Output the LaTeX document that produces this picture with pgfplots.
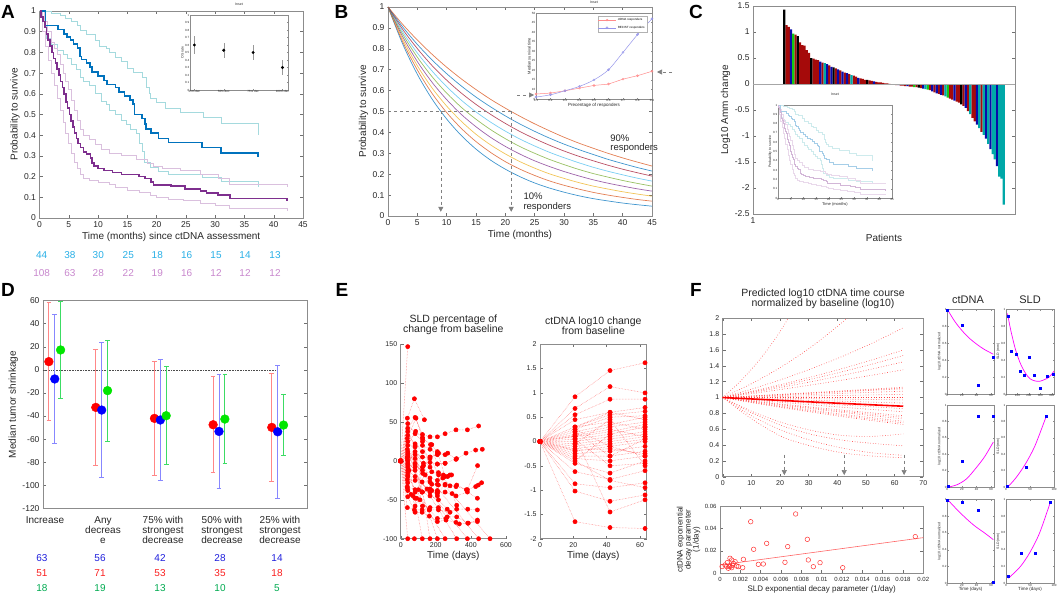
\documentclass[border=0pt]{standalone}
\usepackage{pgfplots}
\usepackage{pgfplotstable}
\pgfplotsset{compat=1.18}
\usepackage{fontspec}
\setmainfont{Liberation Sans}
\usetikzlibrary{arrows.meta}
\definecolor{mblue}{RGB}{0,114,189}
\definecolor{morange}{RGB}{217,83,25}
\definecolor{myellow}{RGB}{237,177,32}
\definecolor{mpurple}{RGB}{126,47,142}
\definecolor{mgreen}{RGB}{119,172,48}
\definecolor{mcyan}{RGB}{77,190,238}
\definecolor{mred}{RGB}{162,20,47}
\definecolor{ciblue}{RGB}{165,218,222}
\definecolor{cipurp}{RGB}{218,192,222}
\definecolor{numcyan}{RGB}{40,175,230}
\definecolor{numpink}{RGB}{200,135,205}
\definecolor{txt}{RGB}{38,38,38}
\definecolor{axc}{RGB}{140,140,140}
\definecolor{barred}{RGB}{165,10,10}
\definecolor{barblue}{RGB}{10,10,170}
\definecolor{bargreen}{RGB}{20,200,20}
\definecolor{barcyan}{RGB}{0,168,168}
\definecolor{dred}{RGB}{255,0,0}
\definecolor{dblue}{RGB}{0,0,255}
\definecolor{dgreen}{RGB}{0,230,0}
\definecolor{ebred}{RGB}{255,135,135}
\definecolor{ebblue}{RGB}{135,135,255}
\definecolor{ebgreen}{RGB}{60,220,100}
\definecolor{nblue}{RGB}{30,30,220}
\definecolor{nred}{RGB}{250,30,30}
\definecolor{ngreen}{RGB}{0,170,80}
\definecolor{magen}{RGB}{255,0,255}
\newcommand\fs[1]{\fontsize{#1}{#1}\selectfont}
\pgfplotsset{
  base/.style={scale only axis, anchor=south west,
    axis line style={draw=axc, line width=0.5pt},
    tick style={draw=axc!80!black, line width=0.4pt},
    major tick length=3pt, tick align=inside,
    tick label style={font=\fs{8.5}, text=txt},
    label style={font=\fs{10}, text=txt},
    title style={font=\fs{10.5}, text=txt, align=center},
    /pgf/number format/assume math mode=true,
    /pgf/number format/fixed,
    xlabel style={inner sep=1pt}, ylabel style={inner sep=1pt}},
  minis/.style={base, tick label style={font=\fs{3}}, label style={font=\fs{3.5}},
    title style={font=\fs{3.5}}, major tick length=1.2pt,
    tick style={draw=axc, line width=0.2pt}, axis line style={draw=axc, line width=0.3pt},
    xticklabel style={inner sep=0.6pt}, yticklabel style={inner sep=0.6pt},
    xlabel style={inner sep=0.5pt}, ylabel style={inner sep=0.5pt},
    axis background/.style={fill=white}},
}
\pgfplotstableread{
t s
0 1
1 0.93
3.2 0.91
4.2 0.89
4.7 0.875
5.3 0.86
5.8 0.84
6.5 0.82
6.9 0.78
7.2 0.765
8 0.75
8.6 0.73
9 0.705
10 0.685
11 0.665
11.5 0.645
13 0.63
13.6 0.61
14.5 0.59
15.5 0.57
16 0.55
16.2 0.5
17.5 0.48
18 0.455
18.2 0.43
19 0.41
20.3 0.385
22 0.364
27.8 0.34
31 0.315
37.3 0.295
}\bluemain
\pgfplotstableread{
t s
0 1
2 0.99
3.5 0.98
4.5 0.965
5.5 0.95
6.5 0.93
7 0.905
8 0.885
9.5 0.86
10.2 0.83
11.5 0.82
12 0.80
13 0.775
14 0.755
15 0.725
16 0.705
17.5 0.68
18.3 0.63
18.7 0.60
19 0.58
20 0.56
21.5 0.53
24 0.51
28 0.485
31 0.455
37.3 0.40
}\blueup
\pgfplotstableread{
t s
0 1
0.8 0.93
1.2 0.87
2 0.84
3 0.81
4 0.79
4.7 0.77
5.5 0.74
6.3 0.72
7 0.68
7.5 0.66
8.5 0.64
9.5 0.60
10.5 0.565
11.5 0.55
12 0.52
13 0.50
14 0.47
14.8 0.45
15.5 0.43
16.5 0.41
17 0.36
17.5 0.32
18 0.27
19 0.245
20.3 0.225
22 0.21
27.8 0.195
31 0.175
37.3 0.15
}\bluelo
\pgfplotstableread{
t s
0 1
0.3 0.97
0.6 0.95
0.9 0.92
1.2 0.89
1.5 0.86
1.8 0.83
2.1 0.80
2.4 0.77
2.7 0.75
3.0 0.72
3.3 0.69
3.6 0.66
3.9 0.63
4.2 0.60
4.5 0.56
4.8 0.53
5.1 0.50
5.4 0.47
5.7 0.44
6.0 0.41
6.3 0.385
6.6 0.36
7.0 0.34
7.5 0.32
8.0 0.31
8.7 0.29
9.0 0.265
9.3 0.25
10 0.24
11 0.23
12.5 0.22
14 0.21
17 0.20
18 0.19
19 0.175
19.5 0.16
22.5 0.155
24.8 0.14
27.5 0.13
28.5 0.12
30.5 0.11
32.5 0.095
42.3 0.08
}\purpmain
\pgfplotstableread{
t s
0 1
0.8 0.95
1.3 0.90
2 0.85
2.5 0.82
3 0.79
3.5 0.74
4 0.70
4.5 0.66
5 0.62
5.5 0.57
6 0.52
6.5 0.47
7 0.43
7.5 0.40
8.5 0.38
9.5 0.355
10.5 0.33
12 0.31
14 0.30
16.5 0.285
18.5 0.265
19.5 0.25
21 0.24
24 0.23
27.5 0.21
30.5 0.19
32.5 0.16
42.3 0.15
}\purpup
\pgfplotstableread{
t s
0 1
0.5 0.90
1 0.83
1.5 0.76
2 0.70
2.5 0.64
3 0.58
3.5 0.52
4 0.46
4.5 0.41
5 0.36
5.5 0.31
6 0.27
6.5 0.24
7 0.21
7.5 0.19
8.5 0.18
10 0.17
12 0.16
13 0.15
15 0.135
17 0.125
19 0.11
20 0.10
22 0.09
24.5 0.085
27.5 0.07
30 0.06
32.5 0.045
42.3 0.035
}\purplo
\pgfplotstableread{
t p1 p2 p3 p4 p5 p6 p7 p8 p9
0 1 1 1 1 1 1 1 1 1
2.5 .823 .834 .846 .858 .870 .881 .893 .905 .917
5 .678 .699 .719 .739 .760 .780 .801 .821 .842
7.5 .560 .587 .613 .640 .667 .694 .720 .747 .774
10 .464 .495 .526 .557 .588 .619 .650 .681 .712
12.5 .385 .419 .453 .486 .520 .554 .588 .622 .656
15 .320 .356 .391 .427 .463 .498 .534 .569 .605
17.5 .267 .304 .340 .376 .413 .449 .486 .522 .558
20 .224 .260 .297 .333 .370 .406 .443 .479 .516
22.5 .188 .224 .260 .296 .332 .368 .404 .440 .477
25 .158 .194 .229 .264 .300 .335 .370 .405 .441
27.5 .134 .168 .202 .237 .271 .305 .339 .373 .408
30 .114 .147 .180 .213 .246 .279 .311 .344 .377
32.5 .097 .129 .160 .192 .223 .255 .286 .318 .349
35 .083 .113 .143 .173 .203 .233 .264 .294 .324
37.5 .072 .100 .129 .157 .186 .214 .243 .271 .300
40 .062 .089 .116 .143 .170 .197 .224 .251 .278
42.5 .054 .079 .105 .130 .156 .181 .207 .232 .258
45 .047 .071 .095 .119 .143 .167 .191 .215 .239
}\Btab
\pgfplotstableread{
t u3 u4 u5 u6 u7 u8 u9 u10 u11 u12 f1 d1 d2 th d3 d4 d5 d5b d6 d7 d7b d8 d9 d10 d11 d12
0 1 1 1 1 1 1 1 1 1 1 1 1 1 1 1 1 1 1 1 1 1 1 1 1 1 1
10.5 1.111 1.081 1.073 1.064 1.051 1.021 1.018 1.013 1.007 1.019 1.0 .995 .988 .981 .975 .967 .957 .953 .949 .942 .938 .933 .82 .80 .76 .72
21 1.234 1.170 1.152 1.132 1.105 1.042 1.035 1.026 1.013 1.038 1.0 .990 .976 .962 .951 .936 .916 .908 .901 .888 .879 .871 .68 .64 .58 .50
31.5 1.371 1.265 1.237 1.204 1.162 1.063 1.054 1.039 1.020 1.058 1.0 .985 .964 .943 .927 .906 .877 .866 .855 .837 .825 .813 .58 .53 .45 .38
42 1.523 1.368 1.328 1.281 1.221 1.085 1.072 1.053 1.026 1.078 1.0 .980 .953 .925 .904 .876 .840 .825 .811 .788 .773 .758 .52 .46 .36 .30
52.5 1.692 1.479 1.425 1.363 1.284 1.107 1.091 1.066 1.033 1.099 1.0 .975 .941 .907 .882 .848 .804 .787 .769 .743 .725 .707 .51 .42 .30 .26
63 1.88 1.6 1.53 1.45 1.35 1.13 1.11 1.08 1.04 1.12 1.0 .97 .93 .89 .86 .82 .77 .75 .73 .70 .68 .66 .54 .39 .27 .24
}\Ftab
\begin{document}
\begin{tikzpicture}[x=1pt,y=1pt]
\useasboundingbox (0,0) rectangle (1059,598);
% ================= A =================
\begin{axis}[base, at={(39.5pt,380pt)}, width=263.5pt, height=207pt,
  xmin=0,xmax=45,ymin=0,ymax=1, xtick={0,5,...,45},
  ytick={0,0.1,0.2,0.3,0.4,0.5,0.6,0.7,0.8,0.9,1},
  xlabel={Time (months) since ctDNA assessment}, ylabel={Probability to survive}]
\addplot[const plot, ciblue, line width=0.8pt] table {\blueup};
\addplot[const plot, ciblue, line width=0.8pt] table {\bluelo};
\addplot[const plot, cipurp, line width=0.8pt] table {\purpup};
\addplot[const plot, cipurp, line width=0.8pt] table {\purplo};
\addplot[const plot, mblue, line width=1.6pt] table {\bluemain};
\addplot[const plot, mpurple, line width=1.6pt] table {\purpmain};
\end{axis}
\foreach \x/\a/\b in {41.7/44/108, 70/38/63, 98.3/30/28, 128.3/25/22, 157.3/18/19, 186.7/16/16, 216/15/12, 245/14/12, 275/13/12}{
  \node[font=\fs{10}, text=numcyan] at (\x,343) {\a};
  \node[font=\fs{10}, text=numpink] at (\x,325) {\b};
}
\begin{axis}[minis, at={(190pt,508pt)}, width=98pt, height=75pt,
  xmin=0.85,xmax=4.19, ymin=0,ymax=1, xtick={1,2,3,4},
  xticklabels={25\% dec,50\% dec,75\% dec,100\% dec},
  ytick={0,0.1,0.2,0.3,0.4,0.5,0.6,0.7,0.8,0.9,1}, title={Inset}, ylabel={OS rate}]
\addplot[gray!80, line width=0.3pt, unbounded coords=jump] coordinates {(1,0.48)(1,0.72)(nan,nan)(2,0.43)(2,0.63)(nan,nan)(3,0.4)(3,0.6)(nan,nan)(4,0.2)(4,0.4)};
\addplot[only marks, mark=*, mark size=1.3pt, black] coordinates {(1,0.6) (2,0.53) (3,0.5) (4,0.3)};
\end{axis}
% ================= B =================
\begin{axis}[base, at={(388pt,382pt)}, width=264pt, height=209pt,
  xmin=0,xmax=45,ymin=0,ymax=1, xtick={0,5,...,45},
  ytick={0,0.1,0.2,0.3,0.4,0.5,0.6,0.7,0.8,0.9,1},
  xlabel={Time (months)}, ylabel={Probability to survive}, clip=false]
\pgfplotsset{bl/.style={smooth, line width=0.7pt, opacity=0.75}}
\addplot[mblue, bl] table[x=t,y=p1] {\Btab};
\addplot[morange, bl] table[x=t,y=p2] {\Btab};
\addplot[myellow, bl] table[x=t,y=p3] {\Btab};
\addplot[mpurple, bl] table[x=t,y=p4] {\Btab};
\addplot[mgreen, bl] table[x=t,y=p5] {\Btab};
\addplot[mcyan, bl] table[x=t,y=p6] {\Btab};
\addplot[mred, bl] table[x=t,y=p7] {\Btab};
\addplot[mblue, bl] table[x=t,y=p8] {\Btab};
\addplot[morange, bl] table[x=t,y=p9] {\Btab};
\draw[gray, dashed, line width=0.6pt] (axis cs:0,0.5) -- (axis cs:21,0.5);
\draw[gray, dashed, line width=0.6pt, -{Triangle[length=5pt,width=5pt]}] (axis cs:9,0.5) -- (axis cs:9,0.02);
\draw[gray, dashed, line width=0.6pt, -{Triangle[length=5pt,width=5pt]}] (axis cs:21,0.5) -- (axis cs:21,0.02);
\node[font=\fs{9.5}, text=txt, align=left, anchor=west] at (axis cs:37.3,0.345) {90\%\\responders};
\node[font=\fs{9.5}, text=txt, align=left, anchor=west] at (axis cs:22.5,0.065) {10\%\\responders};
\end{axis}
\begin{axis}[minis, at={(536pt,499pt)}, width=116pt, height=86pt,
  xmin=0.1,xmax=0.9, ymin=5,ymax=50, xtick={0.1,0.2,0.3,0.4,0.5,0.6,0.7,0.8,0.9},
  ytick={5,10,15,20,25,30,35,40,45,50}, title={Inset},
  xlabel={Precentage of responders}, ylabel={Median survival time},
  xlabel style={font=\fs{4.5}}, ylabel style={font=\fs{4}},
  legend style={font=\fs{3}, at={(0.96,0.97)}, anchor=north east, inner sep=0.5pt, draw=gray!60},
  legend cell align=left]
\addplot[color={rgb,255:red,255;green,140;blue,140}, mark=o, mark size=1pt, line width=0.5pt]
  coordinates {(0.1,7.6) (0.2,8.1) (0.3,9.3) (0.4,10.7) (0.5,12.1) (0.6,12.8) (0.7,15.4) (0.8,17.2) (0.9,19.5)};
\addplot[color={rgb,255:red,150;green,150;blue,235}, mark=o, mark size=1pt, line width=0.5pt, smooth]
  coordinates {(0.1,6) (0.2,7.2) (0.3,9.3) (0.4,11.6) (0.5,15) (0.6,20.3) (0.7,29.4) (0.8,38.7) (0.9,47)};
\legend{ctDNA responders, RECIST responders}
\end{axis}
\draw[gray, dashed, line width=0.6pt, -{Triangle[length=5pt,width=5pt]}] (672,526) -- (657,526);
\draw[gray, dashed, line width=0.6pt, -{Triangle[length=5pt,width=5pt]}] (517,503) -- (534,503);
% ================= C =================
\begin{axis}[base, at={(753pt,384pt)}, width=262pt, height=208pt,
  xmin=1,xmax=118, ymin=-2.5,ymax=1.5, xtick={1},
  ytick={-2.5,-2,-1.5,-1,-0.5,0,0.5,1,1.5},
  xlabel={Patients}, ylabel={Log10 Amm change}, xlabel style={yshift=-6pt}]
\addplot[ybar, bar width=1, bar shift=0pt, fill=barred, draw=none] coordinates {(16,1.13)(17,1.10)(20,0.95)(22,0.80)(23,0.75)(24,0.74)(25,0.65)(26,0.60)(28,0.49)(29,0.47)(30,0.46)(32,0.41)(35,0.36)(38,0.30)(40,0.26)(42,0.22)(44,0.19)(46,0.16)(47,0.14)(49,0.11)(50,0.10)(51,0.08)(53,0.07)(54,0.06)(56,0.04)(57,0.03)(58,0.03)(59,0.02)(60,0.01)(61,0.01)(62,0.004)(63,-0.01)(64,-0.01)(65,-0.02)(67,-0.03)(68,-0.03)(69,-0.04)(71,-0.05)(72,-0.05)(74,-0.06)(76,-0.08)(80,-0.12)(82,-0.16)(84,-0.19)(86,-0.22)(89,-0.28)(90,-0.30)(92,-0.34)(93,-0.36)(95,-0.42)(97,-0.52)(99,-0.65)(100,-0.72)(103,-0.92)};
\addplot[ybar, bar width=1, bar shift=0pt, fill=barblue, draw=none] coordinates {(18,1.05)(31,0.43)(34,0.38)(36,0.33)(39,0.28)(41,0.24)(43,0.21)(48,0.12)(55,0.05)(66,-0.02)(70,-0.04)(77,-0.09)(81,-0.14)(83,-0.18)(85,-0.21)(91,-0.32)(96,-0.46)(101,-0.78)(105,-1.05)(107,-1.25)(110,-1.58)};
\addplot[ybar, bar width=1, bar shift=0pt, fill=black, draw=none] coordinates {(15,1.43)(21,0.92)(27,0.50)(37,0.32)(52,0.08)(75,-0.07)(94,-0.39)};
\addplot[ybar, bar width=1, bar shift=0pt, fill=bargreen, draw=none] coordinates {(19,0.97)(73,-0.06)(79,-0.11)(88,-0.26)};
\addplot[ybar, bar width=1, bar shift=0pt, fill=barcyan, draw=none] coordinates {(33,0.40)(45,0.17)(78,-0.10)(87,-0.24)(98,-0.58)(102,-0.85)(104,-0.98)(106,-1.15)(108,-1.35)(109,-1.45)(111,-1.78)(112,-1.82)(113,-2.32)};
\addplot[gray!70, line width=0.8pt] coordinates {(1,0) (118,0)};
\end{axis}
\begin{axis}[minis, at={(778pt,400pt)}, width=114pt, height=93pt,
  xmin=0,xmax=45,ymin=0,ymax=1, xtick={0,5,...,45},
  ytick={0,0.1,0.2,0.3,0.4,0.5,0.6,0.7,0.8,0.9,1}, title={Inset},
  xlabel={Time (months)}, ylabel={Probability to survive}, xlabel style={font=\fs{4}}]
\addplot[const plot, ciblue!55, line width=0.6pt] table {\blueup};
\addplot[const plot, ciblue!55, line width=0.6pt] table {\bluelo};
\addplot[const plot, cipurp!60, line width=0.6pt] table {\purpup};
\addplot[const plot, cipurp!60, line width=0.6pt] table {\purplo};
\addplot[const plot, mblue!35, line width=0.9pt] table {\bluemain};
\addplot[const plot, mpurple!35, line width=0.9pt] table {\purpmain};
\end{axis}
% ================= D =================
\begin{axis}[base, at={(43pt,89.5pt)}, width=264pt, height=208pt,
  xmin=0,xmax=4.5, ymin=-120,ymax=60, xtick=\empty,
  ytick={-120,-100,-80,-60,-40,-20,0,20,40,60},
  ylabel={Median tumor shrinkage}, clip=false]
\addplot[densely dotted, black!70, line width=0.6pt] coordinates {(0,0) (4,0)};
\addplot[ebred, line width=0.8pt, unbounded coords=jump] coordinates {
(0.1,-43.9)(0.1,58.1)(nan,nan)(0.06,58.1)(0.14,58.1)(nan,nan)(0.06,-43.9)(0.14,-43.9)(nan,nan)
(0.9,-82.5)(0.9,17.5)(nan,nan)(0.86,17.5)(0.94,17.5)(nan,nan)(0.86,-82.5)(0.94,-82.5)(nan,nan)
(1.9,-91.5)(1.9,7.5)(nan,nan)(1.86,7.5)(1.94,7.5)(nan,nan)(1.86,-91.5)(1.94,-91.5)(nan,nan)
(2.9,-89.1)(2.9,-5.9)(nan,nan)(2.86,-5.9)(2.94,-5.9)(nan,nan)(2.86,-89.1)(2.94,-89.1)(nan,nan)
(3.9,-96.5)(3.9,-3.1)(nan,nan)(3.86,-3.1)(3.94,-3.1)(nan,nan)(3.86,-96.5)(3.94,-96.5)};
\addplot[ebblue, line width=0.8pt, unbounded coords=jump] coordinates {
(0.2,-63.4)(0.2,47.6)(nan,nan)(0.16,47.6)(0.24,47.6)(nan,nan)(0.16,-63.4)(0.24,-63.4)(nan,nan)
(1,-93.3)(1,23.7)(nan,nan)(0.96,23.7)(1.04,23.7)(nan,nan)(0.96,-93.3)(1.04,-93.3)(nan,nan)
(2,-96.1)(2,9.3)(nan,nan)(1.96,9.3)(2.04,9.3)(nan,nan)(1.96,-96.1)(2.04,-96.1)(nan,nan)
(3,-102.3)(3,-4.3)(nan,nan)(2.96,-4.3)(3.04,-4.3)(nan,nan)(2.96,-102.3)(3.04,-102.3)(nan,nan)
(4,-111.3)(4,4.1)(nan,nan)(3.96,4.1)(4.04,4.1)(nan,nan)(3.96,-111.3)(4.04,-111.3)};
\addplot[ebgreen, line width=0.8pt, unbounded coords=jump] coordinates {
(0.3,-24.6)(0.3,59)(nan,nan)(0.26,59)(0.34,59)(nan,nan)(0.26,-24.6)(0.34,-24.6)(nan,nan)
(1.1,-61.5)(1.1,25.5)(nan,nan)(1.06,25.5)(1.14,25.5)(nan,nan)(1.06,-61.5)(1.14,-61.5)(nan,nan)
(2.1,-82)(2.1,2.6)(nan,nan)(2.06,2.6)(2.14,2.6)(nan,nan)(2.06,-82)(2.14,-82)(nan,nan)
(3.1,-81.1)(3.1,-4.1)(nan,nan)(3.06,-4.1)(3.14,-4.1)(nan,nan)(3.06,-81.1)(3.14,-81.1)(nan,nan)
(4.1,-74.4)(4.1,-21.2)(nan,nan)(4.06,-21.2)(4.14,-21.2)(nan,nan)(4.06,-74.4)(4.14,-74.4)};
\addplot[only marks, mark=*, mark size=4.4pt, mark options={fill=dred, draw=dred}]
  coordinates {(0.1,7.1) (0.9,-32.5) (1.9,-42) (2.9,-47.5) (3.9,-49.8)};
\addplot[only marks, mark=*, mark size=4.4pt, mark options={fill=dblue, draw=dblue}]
  coordinates {(0.2,-7.9) (1,-34.8) (2,-43.4) (3,-53.3) (4,-53.6)};
\addplot[only marks, mark=*, mark size=4.4pt, mark options={fill=dgreen, draw=dgreen}]
  coordinates {(0.3,17.2) (1.1,-18) (2.1,-39.7) (3.1,-42.6) (4.1,-47.8)};
\end{axis}
\foreach \x/\t in {45/Increase, 103/Any\\decreas\\e, 163/75\% with\\strongest\\decrease, 222/50\% with\\strongest\\decrease, 280/25\% with\\strongest\\decrease}{
  \node[font=\fs{10}, text=txt, align=center, anchor=north, inner sep=0pt, text depth=0pt] at (\x,82) {\t};
}
\foreach \x/\a/\b/\c in {42/63/51/18, 100/56/71/19, 160/42/53/13, 220/28/35/10, 277/14/18/5}{
  \node[font=\fs{10}, text=nblue] at (\x,40.3) {\a};
  \node[font=\fs{10}, text=nred] at (\x,25.3) {\b};
  \node[font=\fs{10}, text=ngreen] at (\x,10.3) {\c};
}
% ================= E =================
\begin{axis}[base, at={(400.7pt,59.3pt)}, width=105.3pt, height=194.4pt,
  xmin=0,xmax=600, ymin=-100,ymax=150, xtick={0,200,400,600},
  ytick={-100,-50,0,50,100,150}, axis x line*=bottom, axis y line*=left,
  tick label style={font=\fs{7}}, title={SLD percentage of\\change from baseline},
  xlabel={Time (days)}, clip=false]
\addplot[red!55, densely dotted, line width=0.5pt, mark=*, mark size=2.1pt,
  mark options={solid, fill=red, draw=red}, unbounded coords=jump] coordinates {
(0,0)(40,147) (nan,nan)
(0,0)(38,55)(78,80)(135,53) (nan,nan)
(0,0)(40,42)(82,56)(124,34)(167,31)(209,31)(253,35)(315,40)(380,40)(444,45) (nan,nan)
(0,0)(38,29)(87,55)(125,28)(177,21)(216,10)(268,10)(315,2)(372,10)(427,14)(465,15) (nan,nan)
(0,0)(40,20)(85,38)(124,30)(170,21)(209,-4)(253,-3)(318,3) (nan,nan)
(0,0)(38,-60)(78,-63)(122,-63)(163,-63)(215,-63)(281,-66)(319,-62)(382,-62)(437,-63) (nan,nan)
(0,0)(40,-46)(82,-66)(122,-66)(163,-71)(209,-78)(258,-76)(315,-79)(334,-81)(385,-80)(437,-76) (nan,nan)
(0,0)(38,-24)(82,-25)(122,-27)(167,-27)(215,-31)(253,-31)(319,-31)(374,-37)(427,-33)(442,-31)(461,-28) (nan,nan)
(0,0)(38,-33)(82,-37)(101,-37)(167,-40)(209,-40)(253,-40)(293,-42)(319,-57) (nan,nan)
(0,0)(59,-43)(91,-48)(110,-50)(163,-63)(209,-74)(258,-74) (nan,nan)
(0,0)(47,-12)(82,3)(129,-3)(167,-2)(209,-4)(253,-3) (nan,nan)
(0,0)(40,10)(82,-3)(125,-16)(177,-14)(215,-15)(243,-18)(281,-18) (nan,nan)
(0,0)(40,-100)(78,-100) (nan,nan)
(0,0)(38,5)(123,-100) (nan,nan)
(0,0)(40,-8)(82,20)(167,-100) (nan,nan)
(0,0)(38,15)(209,-100) (nan,nan)
(0,0)(40,-20)(253,-100) (nan,nan)
(0,0)(38,2)(319,-100) (nan,nan)
(0,0)(40,-5)(380,-100) (nan,nan)
(0,0)(40,12)(444,-100) (nan,nan)
(0,0)(40,25)(509,-100) (nan,nan)
(0,0)(40,-15)(82,-40)(139,-18)(177,-38)(209,-45) (nan,nan)
(0,0)(40,33)(82,22)(124,12)(167,5)(209,8)(253,8) (nan,nan)
(0,0)(40,48)(82,35)(124,25)(167,-8) (nan,nan)
(0,0)(40,-28)(82,-58)(124,-40)(167,-36)(209,-40) (nan,nan)
(0,0)(40,0)(82,8)(124,5)(167,3)(209,12)(253,-20)(290,-18) (nan,nan)
(0,0)(40,38)(82,18)(124,20)(167,15)(209,10) (nan,nan)
(0,0)(40,-3)(82,-12)(124,-8)(167,5)(216,-18)(268,-20) (nan,nan)
(0,0)(40,8)(82,12)(130,-6)(177,-30)(209,-30) (nan,nan)
(0,0)(40,-38)(82,-48)(124,-58)(167,-60)(215,-60)(265,-72)(319,-72)(382,-80)(437,-78) (nan,nan)
(0,0)(40,-12)(82,-20)(150,-36)(209,-42)(253,-30)(315,-33)(380,-37)(438,-6) (nan,nan)
(0,0)(38,-35)(70,-45)(122,-40)(209,-38)(315,-45)(380,-40)(437,-48) (nan,nan)
(0,0)(40,5)(82,-5)(124,-12)(167,-22)(209,-25)(240,-22)(281,-32) (nan,nan)
(0,0)(40,-18)(82,-8)(122,-40)(167,-45)(215,-50)(265,-62)
};
\end{axis}
\begin{axis}[base, at={(540pt,59.3pt)}, width=106.7pt, height=194.4pt,
  xmin=0,xmax=64, ymin=-2,ymax=2, xtick={0,20,40,60},
  ytick={-2,-1.5,-1,-0.5,0,0.5,1,1.5,2},
  tick label style={font=\fs{7}}, title={ctDNA log10 change\\from baseline},
  xlabel={Time (days)}, clip=false]
\addplot[red!55, densely dotted, line width=0.5pt, mark=*, mark size=2.1pt,
  mark options={solid, fill=red, draw=red}, unbounded coords=jump] coordinates {
(0,0)(21,0.92)(42,1.46)(63,1.62) (nan,nan)
(0,0)(21,0.68)(42,1.13)(63,1.0) (nan,nan)
(0,0)(21,0.55)(42,0.87)(63,0.87) (nan,nan)
(0,0)(21,0.45)(42,0.6)(63,0.7) (nan,nan)
(0,0)(21,0.3)(42,0.55)(63,0.62) (nan,nan)
(0,0)(21,0.25)(42,0.5)(63,0.53) (nan,nan)
(0,0)(21,0.2)(42,0.35)(63,0.5) (nan,nan)
(0,0)(21,0.15)(42,0.3)(63,0.4) (nan,nan)
(0,0)(21,0.1)(42,0.2)(63,0.35) (nan,nan)
(0,0)(21,0.05)(42,0.15)(63,0.3) (nan,nan)
(0,0)(21,0.0)(42,0.1)(63,0.2) (nan,nan)
(0,0)(21,-0.05)(42,0.05)(63,0.15) (nan,nan)
(0,0)(21,-0.1)(42,0.0)(63,0.1) (nan,nan)
(0,0)(21,-0.15)(42,-0.05)(63,0.05) (nan,nan)
(0,0)(21,-0.2)(42,-0.1)(63,0.0) (nan,nan)
(0,0)(21,-0.25)(42,-0.2)(63,-0.1) (nan,nan)
(0,0)(21,-0.3)(42,-0.3)(63,-0.2) (nan,nan)
(0,0)(21,-0.35)(42,-0.4)(63,-0.3) (nan,nan)
(0,0)(21,-0.45)(42,-0.65)(63,-0.4) (nan,nan)
(0,0)(21,-0.62)(42,-0.78)(63,-0.6) (nan,nan)
(0,0)(21,-0.87)(42,-0.95)(63,-0.85) (nan,nan)
(0,0)(21,-1.02)(42,-1.23)(63,-1.1) (nan,nan)
(0,0)(21,-1.65)(42,-1.77)(63,-1.79) (nan,nan)
(0,0)(21,0.1)(42,-1.45)(63,-1.2) (nan,nan)
(0,0)(21,0.3)(42,0.4)(63,0.25) (nan,nan)
(0,0)(21,-0.05)(42,0.45)(63,-0.5) (nan,nan)
(0,0)(21,0.2)(42,-0.3)(63,0.05) (nan,nan)
(0,0)(21,-0.4)(42,0.15)(63,0.3) (nan,nan)
(0,0)(21,0.25)(42,-0.1)(63,-0.3) (nan,nan)
(0,0)(21,0.05)(42,-0.5)(63,-0.45) (nan,nan)
(0,0)(42,0.6)(63,0.45) (nan,nan)
(0,0)(42,-0.8)(63,-0.95) (nan,nan)
(0,0)(21,0.12)(42,0.25)(63,0.1) (nan,nan)
(0,0)(21,-0.18)(42,-0.15)(63,-0.25)
};
\end{axis}
% ================= F =================
\begin{axis}[base, at={(722.7pt,121.3pt)}, width=200.6pt, height=158.4pt,
  xmin=0,xmax=70, ymin=0,ymax=2, xtick={0,10,...,70},
  ytick={0,0.2,0.4,0.6,0.8,1,1.2,1.4,1.6,1.8,2},
  tick label style={font=\fs{7}},
  title={Predicted log10 ctDNA time course\\normalized by baseline (log10)}]
\pgfplotsset{fc/.style={red!75, dotted, line width=0.6pt, smooth}}
\addplot[fc] coordinates {(0,1)(5,1.163)(10,1.354)(15,1.575)(20,1.832)(25,2.131)};
\addplot[fc] coordinates {(0,1)(10.5,1.183)(21,1.399)(31.5,1.655)(42,1.958)(47,2.121)};
\foreach \c in {u3,u4,u5,u6,u7,u8,u9,u10,u11,u12,f1,d1,d2,d3,d4,d5,d5b,d6,d7,d7b,d8,d9,d10,d11,d12}{
  \addplot[fc] table[x=t,y=\c] {\Ftab};
}
\addplot[red, line width=1.6pt, smooth] table[x=t,y=th] {\Ftab};
\draw[gray, dashed, line width=0.6pt, -{Triangle[length=5pt,width=5pt]}] (axis cs:21.5,0.28) -- (axis cs:21.5,0.02);
\draw[gray, dashed, line width=0.6pt, -{Triangle[length=5pt,width=5pt]}] (axis cs:42.4,0.28) -- (axis cs:42.4,0.02);
\draw[gray, dashed, line width=0.6pt, -{Triangle[length=5pt,width=5pt]}] (axis cs:63.3,0.28) -- (axis cs:63.3,0.02);
\end{axis}
\begin{axis}[base, at={(720pt,24.7pt)}, width=203.3pt, height=67.3pt,
  xmin=0,xmax=0.02,ymin=0,ymax=0.06,
  xtick={0,0.002,0.004,0.006,0.008,0.01,0.012,0.014,0.016,0.018,0.02},
  ytick={0,0.02,0.04,0.06}, scaled x ticks=false, scaled y ticks=false,
  xticklabel style={/pgf/number format/precision=3}, tick label style={font=\fs{6}},
  xlabel={SLD exponential decay parameter (1/day)},
  ylabel={ctDNA exponential\\decay parameter\\(1/day)},
  ylabel style={align=center, font=\fs{8}}, xlabel style={font=\fs{8}}]
\addplot[only marks, mark=o, mark size=2.3pt, red!80, mark options={line width=0.5pt}] coordinates {
(0.00302,0.046)(0.00744,0.0529)(0.00859,0.0303)(0.00869,0.0119)(0.00666,0.0238)(0.00459,0.0267)
(0.00331,0.0214)(0.00230,0.0125)(0.00426,0.0083)(0.00377,0.0080)(0.00639,0.0098)(0.00918,0.0059)
(0.00984,0.0095)(0.01207,0.0050)(0.01921,0.0327)(0.00223,0.0050)(0.00098,0.0134)(0.00115,0.0119)
(0.00072,0.0095)(0.00049,0.0074)(0.00131,0.0089)(0.00092,0.0065)(0.00115,0.0050)(0.00164,0.0065)
(0.00082,0.0045)(0.00148,0.0104)(0.00125,0.0071)(0.00098,0.006)(0.00066,0.006)(0.0002,0.006)(0.0018,0.006)};
\addplot[red!60, line width=0.6pt] coordinates {(0,0.0074) (0.02,0.0318)};
\end{axis}
% mini panels
\node[font=\fs{11}, text=txt] at (968,298.7) {ctDNA};
\node[font=\fs{11}, text=txt] at (1030,298.7) {SLD};
\begin{axis}[minis, at={(947.3pt,204pt)}, width=46.7pt, height=84.7pt,
  xmin=0,xmax=64, ymin=0,ymax=1, xtick={0,20,40,60}, ytick={0,0.2,0.4,0.6,0.8,1},
  ylabel={log10 ctDNA normalized}]
\addplot[magen, line width=0.7pt, smooth] coordinates {(0,1.0)(10,0.86)(20,0.75)(30,0.66)(40,0.59)(50,0.53)(63,0.47)};
\addplot[only marks, mark=square*, mark size=1pt, dblue] coordinates {(0,0.99)(21,0.81)(42,0.10)(63,0.44)};
\end{axis}
\begin{axis}[minis, at={(1006pt,204pt)}, width=48pt, height=84.7pt,
  xmin=0,xmax=420, ymin=0,ymax=1, xtick={0,100,200,300,400}, ytick={0,0.2,0.4,0.6,0.8,1},
  ylabel={SLD (mm)}]
\addplot[magen, line width=0.7pt, smooth] coordinates {(13,0.95)(42,0.75)(84,0.52)(126,0.36)(168,0.25)(210,0.18)(252,0.155)(294,0.15)(336,0.17)(378,0.2)(420,0.27)};
\addplot[only marks, mark=square*, mark size=1pt, dblue] coordinates {(15,0.913)(41,0.5)(92,0.47)(122,0.27)(160,0.22)(202,0.43)(244,0.22)(298,0.07)(357,0.21)(416,0.23)};
\end{axis}
\begin{axis}[minis, at={(947.3pt,110.7pt)}, width=46.7pt, height=82.3pt,
  xmin=0,xmax=64, ymin=0,ymax=1, xtick={0,20,40,60}, ytick={0,0.2,0.4,0.6,0.8,1},
  ylabel={log10 ctDNA normalized}]
\addplot[magen, line width=0.7pt, smooth] coordinates {(0,0)(13,0.03)(26,0.1)(38,0.22)(51,0.37)(63,0.55)};
\addplot[only marks, mark=square*, mark size=1pt, dblue] coordinates {(1,0.01)(21,0.32)(42,0.87)(63,0.86)};
\end{axis}
\begin{axis}[minis, at={(1006pt,110.7pt)}, width=48pt, height=82.3pt,
  xmin=0,xmax=100, ymin=0,ymax=1, xtick={0,50,100}, ytick={0,0.2,0.4,0.6,0.8,1},
  ylabel={SLD (mm)}]
\addplot[magen, line width=0.7pt, smooth] coordinates {(3,0)(20,0.11)(40,0.28)(60,0.5)(83,0.85)};
\addplot[only marks, mark=square*, mark size=1pt, dblue] coordinates {(3,0.01)(43,0.24)(83,0.86)};
\end{axis}
\begin{axis}[minis, at={(947.3pt,14.7pt)}, width=46.7pt, height=84pt,
  xmin=0,xmax=64, ymin=0,ymax=1, xtick={0,20,40,60}, ytick={0,0.2,0.4,0.6,0.8,1},
  ylabel={log10 ctDNA normalized}, xlabel={Time (days)}, xlabel style={font=\fs{4.5}}]
\addplot[magen, line width=0.7pt, smooth] coordinates {(0,1)(13,0.88)(26,0.77)(38,0.68)(51,0.6)(63,0.52)};
\addplot[only marks, mark=square*, mark size=1pt, dblue] coordinates {(0,0.99)(21,0.97)(42,0.87)(63,0.01)};
\end{axis}
\begin{axis}[minis, at={(1006pt,14.7pt)}, width=48pt, height=84pt,
  xmin=0,xmax=100, ymin=0,ymax=1, xtick={0,50,100}, ytick={0,0.2,0.4,0.6,0.8,1},
  ylabel={SLD (mm)}, xlabel={Time (days)}, xlabel style={font=\fs{4.5}}]
\addplot[magen, line width=0.7pt, smooth] coordinates {(5,0.06)(30,0.2)(50,0.37)(70,0.6)(92,0.96)};
\addplot[only marks, mark=square*, mark size=1pt, dblue] coordinates {(5,0.08)(31,0.36)(60,0.36)(92,0.97)};
\end{axis}
% panel letters
\node[font=\fs{19}\bfseries, text=black] at (8,586) {A};
\node[font=\fs{19}\bfseries, text=black] at (341.5,586) {B};
\node[font=\fs{19}\bfseries, text=black] at (696,586) {C};
\node[font=\fs{19}\bfseries, text=black] at (8,308) {D};
\node[font=\fs{19}\bfseries, text=black] at (342,308) {E};
\node[font=\fs{19}\bfseries, text=black] at (696,308) {F};
\end{tikzpicture}
\end{document}
